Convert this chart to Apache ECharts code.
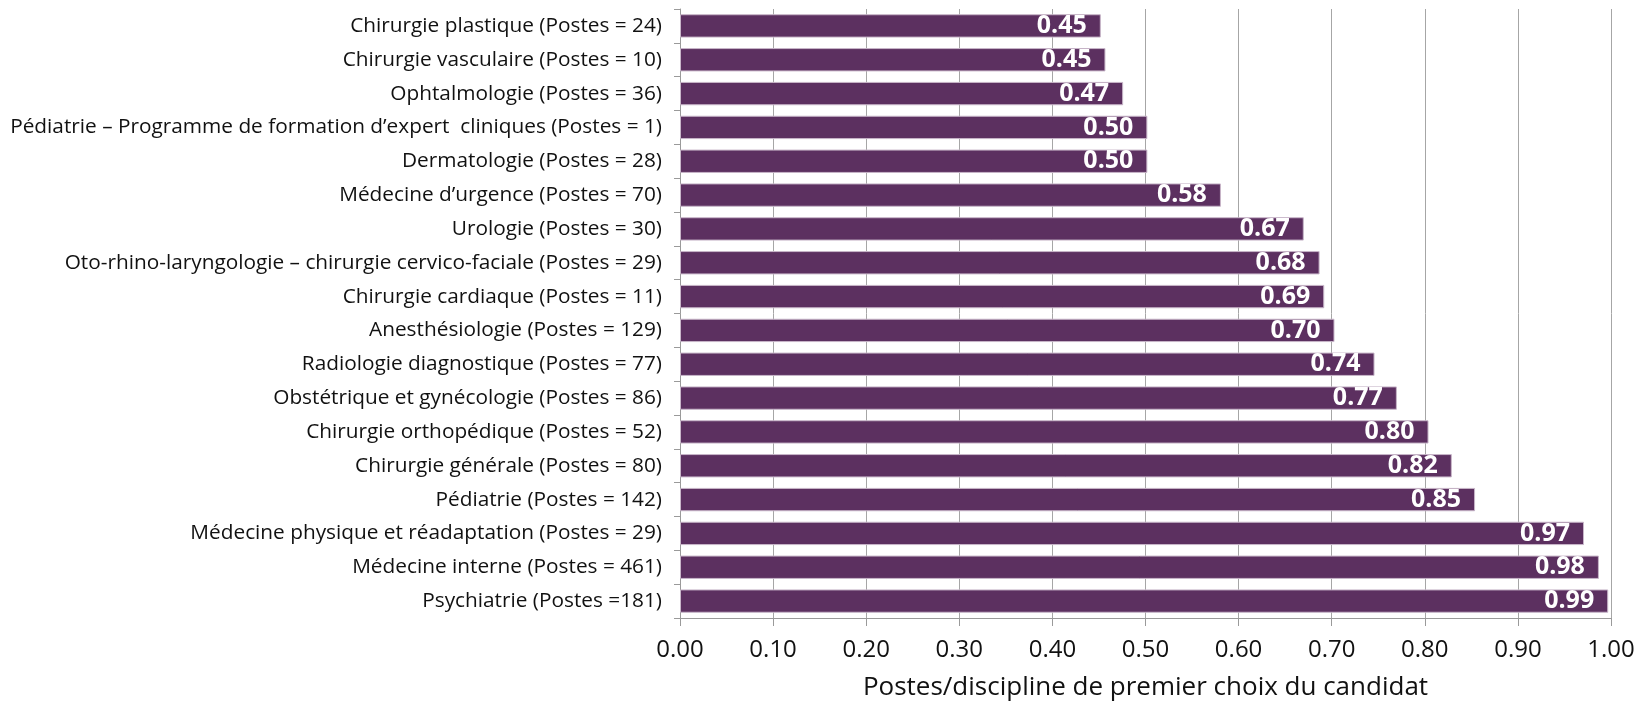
<!DOCTYPE html>
<html>
<head>
<meta charset="utf-8">
<script src="https://cdn.jsdelivr.net/npm/echarts@6/dist/echarts.min.js"></script>
<style>
html,body{margin:0;padding:0;background:#fff;}
#chart{width:1641px;height:706px;}
</style>
</head>
<body>
<div id="chart"></div>
<script>
const categories = [
  "Chirurgie plastique (Postes = 24)",
  "Chirurgie vasculaire (Postes = 10)",
  "Ophtalmologie (Postes = 36)",
  "Pédiatrie – Programme de formation d’expert  cliniques (Postes = 1)",
  "Dermatologie (Postes = 28)",
  "Médecine d’urgence (Postes = 70)",
  "Urologie (Postes = 30)",
  "Oto-rhino-laryngologie – chirurgie cervico-faciale (Postes = 29)",
  "Chirurgie cardiaque (Postes = 11)",
  "Anesthésiologie (Postes = 129)",
  "Radiologie diagnostique (Postes = 77)",
  "Obstétrique et gynécologie (Postes = 86)",
  "Chirurgie orthopédique (Postes = 52)",
  "Chirurgie générale (Postes = 80)",
  "Pédiatrie (Postes = 142)",
  "Médecine physique et réadaptation (Postes = 29)",
  "Médecine interne (Postes = 461)",
  "Psychiatrie (Postes =181)"
];
const values = [0.452, 0.457, 0.476, 0.502, 0.502, 0.581, 0.670, 0.687, 0.692, 0.703, 0.746, 0.770, 0.804, 0.829, 0.854, 0.971, 0.987, 0.997];
const labels = ["0.45","0.45","0.47","0.50","0.50","0.58","0.67","0.68","0.69","0.70","0.74","0.77","0.80","0.82","0.85","0.97","0.98","0.99"];
const xTicks = ["0.00","0.10","0.20","0.30","0.40","0.50","0.60","0.70","0.80","0.90","1.00"];
const axisTitle = "Postes/discipline de premier choix du candidat";

const chart = echarts.init(document.getElementById('chart'), null, {renderer:'canvas'});
const font = "'Open Sans', 'Noto Sans', sans-serif";
chart.setOption({
  animation:false,
  textStyle:{fontFamily:font},
  grid:{left:680, right:30, top:9, bottom:85, containLabel:false},
  xAxis:{
    type:'value', min:0, max:1, interval:0.1,
    axisLine:{show:true, lineStyle:{color:'#9a9a9a', width:1}},
    axisTick:{show:true, length:8, lineStyle:{color:'#9a9a9a'}},
    splitLine:{show:true, lineStyle:{color:'#a6a6a6', width:1}},
    axisLabel:{color:'#111', fontSize:24, margin:20, fontFamily:font,
      formatter:function(v){ const i=Math.round(v*10); return xTicks[i]; }},
    name:axisTitle, nameLocation:'middle', nameGap:57,
    nameTextStyle:{color:'#111', fontSize:26, fontFamily:font}
  },
  yAxis:{
    type:'category', data:categories, inverse:true,
    axisLine:{show:true, lineStyle:{color:'#9a9a9a', width:1}},
    axisTick:{show:true, length:6, lineStyle:{color:'#9a9a9a'}},
    axisLabel:{color:'#111', fontSize:20.8, margin:18, fontFamily:font}
  },
  series:[{
    type:'bar', data:values, barCategoryGap:'31%',
    itemStyle:{color:'#5C3060', borderColor:'#c8b6c9', borderWidth:1},
    label:{show:true, position:'insideRight', distance:14, color:'#fff',
      fontWeight:'bold', fontSize:25, fontFamily:font,
      formatter:function(p){ return labels[p.dataIndex]; }}
  }]
});
</script>
</body>
</html>
